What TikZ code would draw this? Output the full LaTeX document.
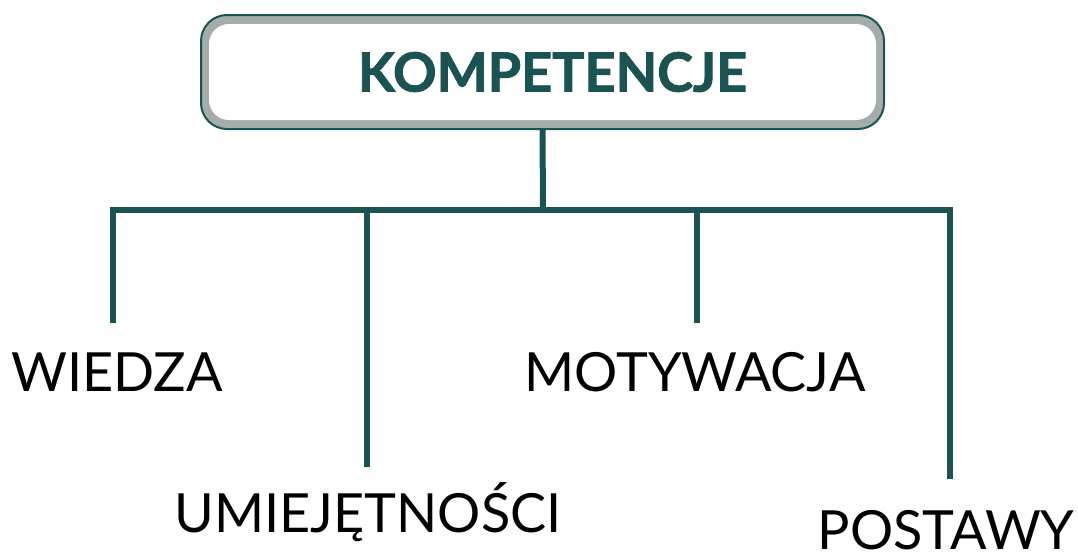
\documentclass[tikz,border=0pt]{standalone}
\usepackage{fontspec}
\setmainfont{Lato}
\newfontfamily\titlefont[BoldFeatures={FakeBold=1.6}]{Lato}
\usepackage{tikz}

\definecolor{tealdark}{HTML}{1B5252}
\definecolor{bandgray}{HTML}{A4ACAC}

\begin{document}
\begin{tikzpicture}[x=1pt, y=-1pt,
    outerBox/.style={rectangle, rounded corners=26pt, minimum width=683pt, minimum height=114pt, draw=tealdark, line width=2pt, fill=bandgray, inner sep=0pt},
    innerBox/.style={rectangle, rounded corners=20pt, minimum width=667pt, minimum height=96pt, fill=white, text=tealdark, inner sep=0pt, font=\fontsize{54}{58}\selectfont\titlefont\bfseries},
    item/.style={anchor=base, inner sep=0pt, text=black, font=\fontsize{54}{58}\selectfont},
    link/.style={draw=tealdark, line width=6pt}
]
\useasboundingbox (0,0) rectangle (1078,552);

% Top box
\node[outerBox] (frame) at (542.5,72) {};
\node[innerBox] (title) at (542.5,72) {\hspace*{20pt}KOMPETENCJE};

% Labels
\node[item] (wiedza) at (117,391) {WIEDZA};
\node[item] (umiej) at (368,532) {UMIEJĘTNOŚCI};
\node[item] (motyw) at (695,391) {MOTYWACJA};
\node[item] (postawy) at (946,549) {POSTAWY};

% Line ends
\coordinate (bus) at (543,210);
\coordinate (wiedzaEnd) at (113,323);
\coordinate (umiejEnd) at (367,467);
\coordinate (motywEnd) at (697,323);
\coordinate (postawyEnd) at (950,479);

% Connectors
\draw[link] (frame.south) -- (bus);
\draw[link] (wiedzaEnd) |- (bus) -| (postawyEnd);
\draw[link] (umiejEnd) -- (umiejEnd |- bus);
\draw[link] (motywEnd) -- (motywEnd |- bus);

\end{tikzpicture}
\end{document}
